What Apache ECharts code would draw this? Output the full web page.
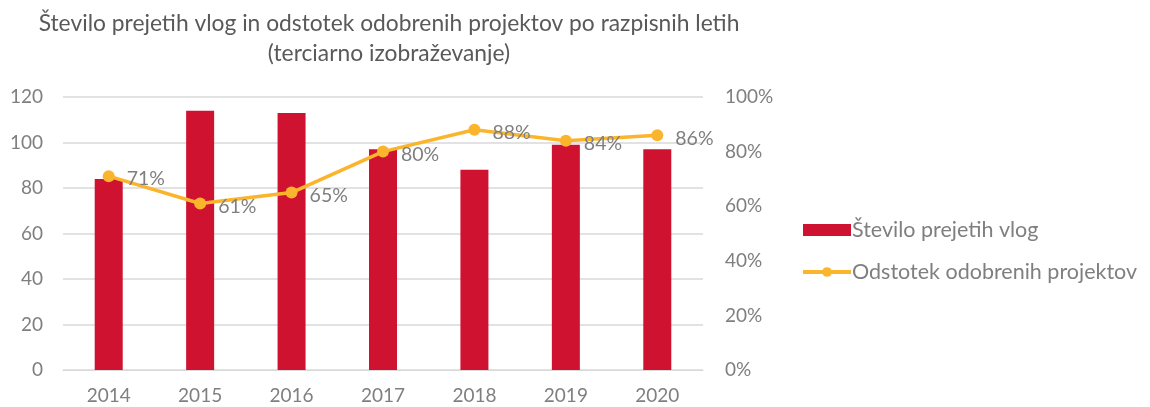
<!DOCTYPE html>
<html>
<head>
<meta charset="utf-8">
<script src="https://cdn.jsdelivr.net/npm/echarts@6/dist/echarts.min.js"></script>
<style>
	html, body { margin: 0; padding: 0; background: #fff; }
	#chart { width: 1150px; height: 407px; }
</style>
</head>
<body>
<div id="chart"></div>
<script>
var years = ['2014', '2015', '2016', '2017', '2018', '2019', '2020'];
var vloge = [84, 114, 113, 97, 88, 99, 97];
var odstotek = [71, 61, 65, 80, 88, 84, 86];
var leftTicks = [0, 20, 40, 60, 80, 100, 120];

var font = 'Lato';
var grey = '#7f7f7f';

var chart = echarts.init(document.getElementById('chart'));

var option = {
	animation : false,
	textStyle : {
		fontFamily : font
	},
	title : {
		text : 'Število prejetih vlog in odstotek odobrenih projektov po razpisnih letih\n(terciarno izobraževanje)',
		left : 384,
		top : 4,
		textAlign : 'center',
		textStyle : {
			fontFamily : font,
			fontSize : 22.8,
			fontWeight : 'normal',
			color : '#595959',
			lineHeight : 30
		}
	},
	legend : {
		orient : 'vertical',
		left : 796,
		top : 214,
		itemWidth : 48,
		itemHeight : 12,
		itemGap : 20,
		lineStyle : {
			width : 4
		},
		textStyle : {
			fontFamily : font,
			fontSize : 21.5,
			color : grey,
			padding : [0, 0, 0, -4]
		},
		data : [{
			name : 'Število prejetih vlog',
			icon : 'rect'
		}, {
			name : 'Odstotek odobrenih projektov'
		}]
	},
	grid : {
		left : 63,
		right : 447,
		top : 97,
		bottom : 37
	},
	xAxis : {
		type : 'category',
		data : years,
		axisLine : {
			lineStyle : {
				color : '#d9d9d9'
			}
		},
		axisTick : {
			show : false
		},
		axisLabel : {
			fontFamily : font,
			fontSize : 19,
			color : grey,
			margin : 16
		}
	},
	yAxis : [{
		type : 'value',
		min : leftTicks[0],
		max : leftTicks[leftTicks.length - 1],
		interval : 20,
		axisLabel : {
			fontFamily : font,
			fontSize : 19,
			color : grey,
			margin : 20
		},
		splitLine : {
			lineStyle : {
				color : '#d9d9d9',
				width : 1.5
			}
		}
	}, {
		type : 'value',
		min : 0,
		max : 100,
		interval : 20,
		axisLabel : {
			fontFamily : font,
			fontSize : 19,
			color : grey,
			margin : 22,
			formatter : '{value}%'
		},
		splitLine : {
			show : false
		}
	}],
	series : [{
		name : 'Število prejetih vlog',
		type : 'bar',
		data : vloge,
		barWidth : 28,
		itemStyle : {
			color : '#cf1230'
		}
	}, {
		name : 'Odstotek odobrenih projektov',
		type : 'line',
		yAxisIndex : 1,
		data : odstotek,
		symbol : 'circle',
		symbolSize : 12,
		lineStyle : {
			color : '#fbb52d',
			width : 3.5
		},
		itemStyle : {
			color : '#fbb52d'
		},
		label : {
			show : true,
			position : 'right',
			distance : 12,
			offset : [0, 3],
			fontFamily : font,
			fontSize : 19.5,
			color : grey,
			formatter : '{c}%'
		}
	}]
};

chart.setOption(option);
</script>
</body>
</html>
